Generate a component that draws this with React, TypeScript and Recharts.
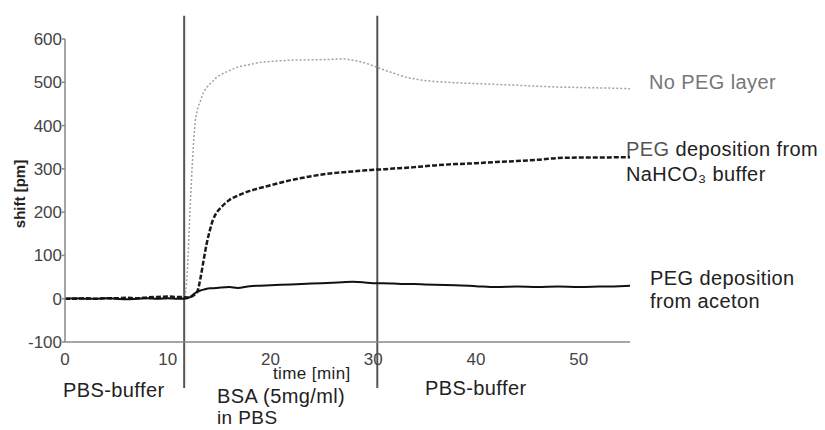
import React from 'react';
import { LineChart, Line, XAxis, YAxis, ReferenceLine } from 'recharts';

// time [min]
const TIMES = [
	0, 1, 2, 3, 4, 5, 6, 7, 8, 9, 10, 11,
	11.6, 11.9, 12.2, 12.4, 12.6, 12.9, 13.2, 13.5, 13.8, 14.1, 14.4, 14.8, 15.2,
	16, 16.8, 18, 19, 20,
	22, 24, 26, 27, 28, 29, 30,
	31, 32, 33, 34, 35, 36,
	38, 40, 42, 44, 46, 48, 50, 52, 54, 55,
];

// shift [pm], no PEG layer
const NO_PEG = [
	0, 0, 0, 0, 0, 0, 0, 0, 0, 0, 0, 1,
	3, 60, 220, 314, 390, 437, 458, 477, 488, 496, 503, 512, 518,
	527, 535, 541, 546, 548,
	551, 552, 553, 554, 551, 546, 538,
	529, 521, 513, 508, 504, 502,
	499, 497, 495, 493, 491, 489, 488, 487, 486, 485,
];

// PEG deposition from NaHCO3 buffer
const PEG_NAHCO3 = [
	0, 0, 1, 0, 1, 1, 2, 1, 3, 4, 5, 4,
	4, 3, 4, 6, 9, 18, 49, 90, 128, 158, 182, 200, 211,
	228, 238, 249, 256, 262,
	274, 283, 290, 292, 294, 296, 298,
	299, 301, 302, 304, 306, 308,
	311, 313, 316, 318, 321, 325, 326, 326, 327, 327,
];

// PEG deposition from aceton
const PEG_ACETON = [
	0, 1, 0, 0, 1, 0, -1, 0, 1, 0, 1, 0,
	0, 1, 4, 8, 12, 16, 19, 21, 23, 24, 24, 25, 26,
	27, 25, 29, 30, 31,
	33, 35, 37, 38, 39, 38, 36,
	36, 35, 34, 34, 33, 32,
	31, 29, 27, 28, 27, 28, 27, 28, 29, 30,
];

const X_TICKS = [0, 10, 20, 30, 40, 50];
const Y_TICKS = [-100, 0, 100, 200, 300, 400, 500, 600];

// buffer switches (min)
const SWITCHES = [11.6, 30.4];

const data = TIMES.map((t, i) => ({
	t,
	noPeg: NO_PEG[i],
	nahco3: PEG_NAHCO3[i],
	aceton: PEG_ACETON[i],
}));

const FONT = '"Liberation Sans", Arial, sans-serif';

const txt = (left: number, top: number, color = '#222'): React.CSSProperties => ({
	position: 'absolute',
	left,
	top,
	fontFamily: FONT,
	fontSize: 20,
	lineHeight: '20px',
	letterSpacing: 0.4,
	color,
	whiteSpace: 'nowrap',
});

export default function App() {
	return (
		<div style={{ position: 'absolute', left: 0, top: 0, width: 825, height: 430, background: '#fff' }}>
			<LineChart
				width={825}
				height={430}
				data={data}
				margin={{ top: 39, right: 195, left: 0, bottom: 58 }}
			>
				<XAxis
					dataKey="t"
					type="number"
					domain={[0, 55]}
					ticks={X_TICKS}
					height={30}
					tickLine={false}
					tickMargin={5}
					stroke="#888"
					strokeWidth={1.5}
					tick={{ fill: '#444', fontSize: 17, fontFamily: FONT }}
				/>
				<YAxis
					type="number"
					domain={[-100, 600]}
					ticks={Y_TICKS}
					width={65}
					tickSize={3}
					tickMargin={0}
					stroke="#888"
					strokeWidth={1.5}
					tick={{ fill: '#444', fontSize: 17, fontFamily: FONT }}
				/>
				{SWITCHES.map((x) => (
					<ReferenceLine
						key={x}
						segment={[{ x, y: 654 }, { x, y: -206 }]}
						ifOverflow="visible"
						stroke="#555"
						strokeWidth={2}
					/>
				))}
				<Line
					type="monotone"
					dataKey="noPeg"
					stroke="#a0a0a0"
					strokeWidth={1.5}
					strokeDasharray="2 2"
					dot={false}
					isAnimationActive={false}
				/>
				<Line
					type="monotone"
					dataKey="nahco3"
					stroke="#1a1a1a"
					strokeWidth={2.5}
					strokeDasharray="5 2"
					dot={false}
					isAnimationActive={false}
				/>
				<Line
					type="monotone"
					dataKey="aceton"
					stroke="#111"
					strokeWidth={2}
					dot={false}
					isAnimationActive={false}
				/>
			</LineChart>

			<div
				style={{
					position: 'absolute',
					left: 19,
					top: 194,
					transform: 'translate(-50%, -50%) rotate(-90deg)',
					fontFamily: FONT,
					fontSize: 15,
					fontWeight: 'bold',
					color: '#222',
					whiteSpace: 'nowrap',
				}}
			>
				shift [pm]
			</div>
			<div style={{ ...txt(273, 364), fontSize: 17 }}>time [min]</div>

			<div style={txt(649, 72, '#777')}>No PEG layer</div>
			<div style={txt(626, 139)}>
				<span style={{ color: '#555' }}>PEG</span> deposition from
			</div>
			<div style={txt(626, 164)}>NaHCO₃ buffer</div>
			<div style={txt(650, 268)}>PEG deposition</div>
			<div style={txt(650, 291)}>from aceton</div>

			<div style={txt(63, 380)}>PBS-buffer</div>
			<div style={txt(217, 386)}>BSA (5mg/ml)</div>
			<div style={{ ...txt(217, 408), fontSize: 19, lineHeight: '19px' }}>in PBS</div>
			<div style={txt(425, 378)}>PBS-buffer</div>
		</div>
	);
}
